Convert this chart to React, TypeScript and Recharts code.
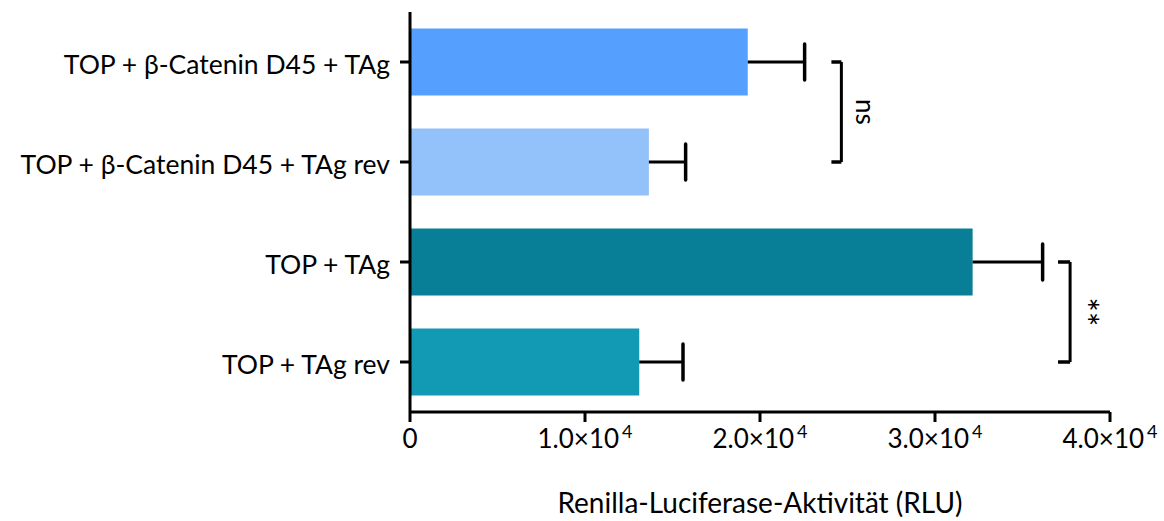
import React from "react";
import { BarChart, Bar, XAxis, YAxis, Cell, ReferenceLine } from "recharts";

const categories = [
  "TOP + β-Catenin D45 + TAg",
  "TOP + β-Catenin D45 + TAg rev",
  "TOP + TAg",
  "TOP + TAg rev",
];
const means = [19300, 13650, 32150, 13100];
const errors = [3250, 2100, 4000, 2500];
const barColors = ["#55a0ff", "#93c1f9", "#087f96", "#129ab5"];

const xTicks = [0, 10000, 20000, 30000, 40000];
const xTickBase = ["0", "1.0×10", "2.0×10", "3.0×10", "4.0×10"];
const xTickExp = ["", "4", "4", "4", "4"];

// significance brackets: [from category, to category, bracket x, cap start x, text]
const brackets = [
  { from: 0, to: 1, x: 24650, capX: 24080, text: "ns", dx: 15, size: 26 },
  { from: 2, to: 3, x: 37720, capX: 37030, text: "**", dx: 3, size: 34 },
];

const data = categories.map((name, i) => ({
  name,
  mean: means[i],
  err: errors[i],
}));

const FONT = "Lato, 'Open Sans', sans-serif";

const YTick = (props: any) => {
  const { x, y, payload } = props;
  return (
    <text x={x} y={y + 12} textAnchor="end" fontSize={26.5} fontFamily={FONT} fill="#000">
      {payload.value}
    </text>
  );
};

const XTick = (props: any) => {
  const { x, y, payload, index } = props;
  const i = index ?? xTicks.indexOf(payload.value);
  return (
    <text x={x} y={y + 24} textAnchor="middle" fontSize={26} fontFamily={FONT} fill="#000">
      {xTickBase[i]}
      {xTickExp[i] ? (
        <tspan dx={3} dy={-10} fontSize={18}>
          {xTickExp[i]}
        </tspan>
      ) : null}
    </text>
  );
};

const ErrShape = (props: any) => {
  const { x, y, width, height } = props;
  const cy = y + height / 2;
  const ex = x + width;
  return (
    <g>
      <line x1={x} y1={cy} x2={ex} y2={cy} stroke="#000" strokeWidth={3} />
      <line x1={ex} y1={cy - 18} x2={ex} y2={cy + 18} stroke="#000" strokeWidth={3.5} strokeLinecap="round" />
    </g>
  );
};

const BracketLabel = (props: any) => {
  const { viewBox, text, dx, size } = props;
  if (!viewBox) return null;
  const tx = viewBox.x + dx;
  const ty = viewBox.y + viewBox.height / 2;
  return (
    <text
      x={tx}
      y={ty}
      textAnchor="middle"
      fontSize={size}
      fontFamily={FONT}
      fill="#000"
      transform={`rotate(90, ${tx}, ${ty})`}
    >
      {text}
    </text>
  );
};

const AxisTitle = (props: any) => {
  const { viewBox } = props;
  return (
    <text
      x={viewBox.x + viewBox.width / 2}
      y={viewBox.y + 101}
      textAnchor="middle"
      fontSize={28}
      fontFamily={FONT}
      fill="#000"
    >
      Renilla-Luciferase-Aktivität (RLU)
    </text>
  );
};

export default function App() {
  return (
    <div style={{ position: "absolute", left: 0, top: 0, background: "#fff" }}>
      <BarChart
        width={1164}
        height={521}
        data={data}
        layout="vertical"
        margin={{ top: 12, right: 54, bottom: 0, left: 0 }}
        barCategoryGap="16.5%"
      >
        <XAxis
          type="number"
          domain={[0, 40000]}
          ticks={xTicks}
          interval={0}
          height={109}
          tickSize={10}
          tickMargin={2}
          axisLine={{ stroke: "#000", strokeWidth: 3 }}
          tickLine={{ stroke: "#000", strokeWidth: 3 }}
          tick={<XTick />}
          label={<AxisTitle />}
          allowDataOverflow
        />
        <YAxis
          type="category"
          dataKey="name"
          width={410}
          tickSize={10}
          tickMargin={10}
          axisLine={{ stroke: "#000", strokeWidth: 3 }}
          tickLine={{ stroke: "#000", strokeWidth: 3 }}
          tick={<YTick />}
          interval={0}
        />
        <Bar dataKey="mean" stackId="a" isAnimationActive={false}>
          {data.map((d, i) => (
            <Cell key={d.name} fill={barColors[i]} />
          ))}
        </Bar>
        <Bar dataKey="err" stackId="a" isAnimationActive={false} shape={<ErrShape />} />
        {brackets.map((b) => (
          <React.Fragment key={b.text}>
            <ReferenceLine
              segment={[
                { x: b.x, y: categories[b.from] },
                { x: b.x, y: categories[b.to] },
              ]}
              stroke="#000"
              strokeWidth={3}
              label={<BracketLabel text={b.text} dx={b.dx} size={b.size} />}
            />
            <ReferenceLine
              segment={[
                { x: b.capX, y: categories[b.from] },
                { x: b.x, y: categories[b.from] },
              ]}
              stroke="#000"
              strokeWidth={3.5}
            />
            <ReferenceLine
              segment={[
                { x: b.capX, y: categories[b.to] },
                { x: b.x, y: categories[b.to] },
              ]}
              stroke="#000"
              strokeWidth={3.5}
            />
          </React.Fragment>
        ))}
      </BarChart>
    </div>
  );
}
